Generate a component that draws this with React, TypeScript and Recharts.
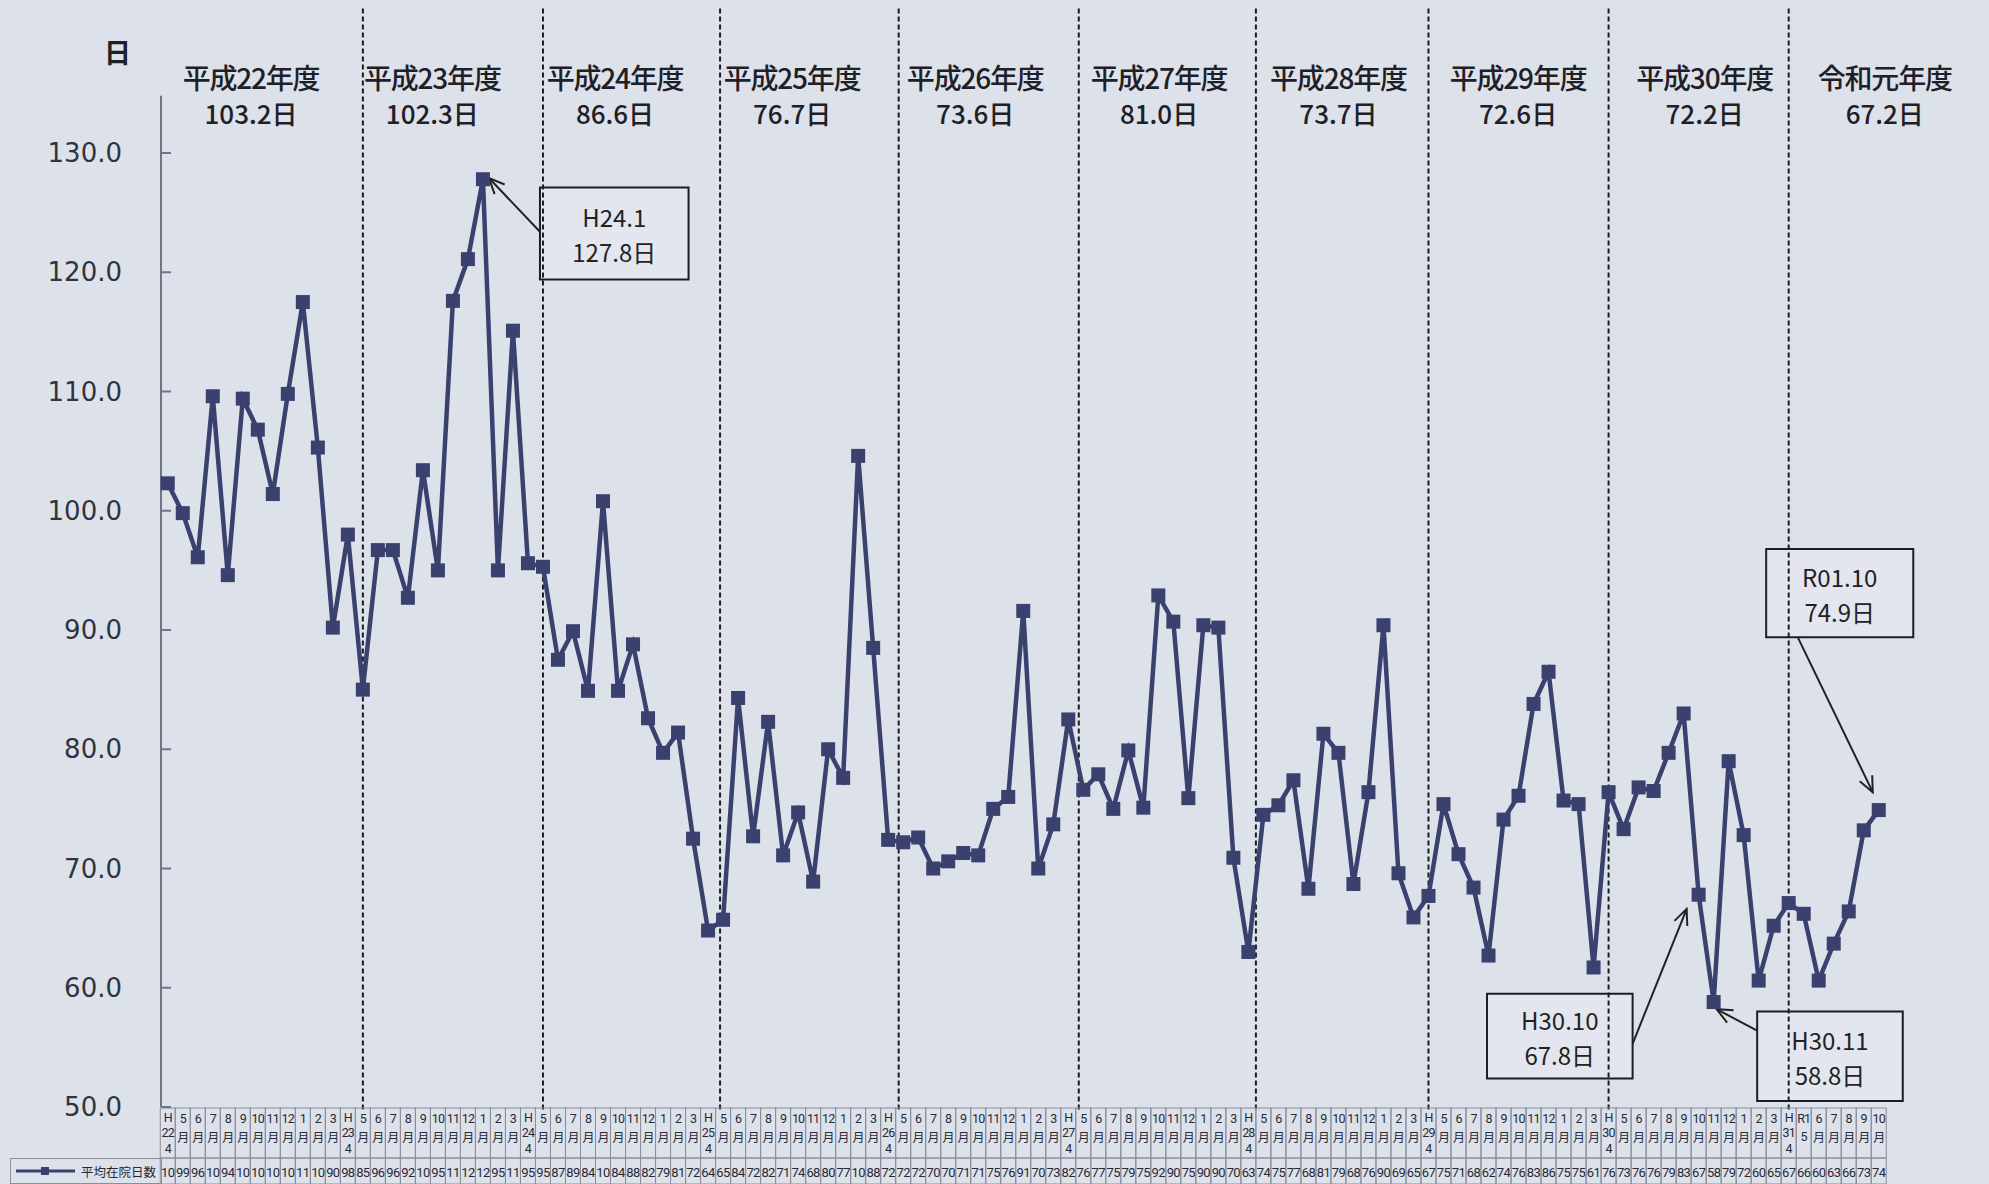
import React from "react";
import {
  LineChart,
  Line,
  XAxis,
  YAxis,
  ReferenceLine,
  ReferenceArea,
  ReferenceDot,
} from "recharts";

// 平均在院日数 (days), one array per fiscal year, April -> March
const fy22 = [102.3, 99.8, 96.1, 109.6, 94.6, 109.4, 106.8, 101.4, 109.8, 117.5, 105.3, 90.2];
const fy23 = [98.0, 85.0, 96.7, 96.7, 92.7, 103.4, 95.0, 117.6, 121.1, 127.8, 95.0, 115.1];
const fy24 = [95.6, 95.3, 87.5, 89.9, 84.9, 100.8, 84.9, 88.8, 82.6, 79.7, 81.4, 72.5];
const fy25 = [64.8, 65.7, 84.3, 72.7, 82.3, 71.1, 74.7, 68.9, 80.0, 77.6, 104.6, 88.5];
const fy26 = [72.4, 72.2, 72.6, 70.0, 70.6, 71.3, 71.1, 75.0, 76.0, 91.6, 70.0, 73.7];
const fy27 = [82.5, 76.6, 77.9, 75.0, 79.9, 75.1, 92.9, 90.7, 75.9, 90.4, 90.2, 70.9];
const fy28 = [63.0, 74.5, 75.3, 77.4, 68.3, 81.3, 79.7, 68.7, 76.4, 90.4, 69.6, 65.9];
const fy29 = [67.7, 75.4, 71.2, 68.4, 62.7, 74.1, 76.1, 83.8, 86.5, 75.7, 75.4, 61.7];
const fy30 = [76.4, 73.3, 76.8, 76.5, 79.7, 83.0, 67.8, 58.8, 79.0, 72.8, 60.6, 65.2];
const fy31 = [67.1, 66.2, 60.6, 63.7, 66.4, 73.2, 74.9];

const days = [...fy22, ...fy23, ...fy24, ...fy25, ...fy26, ...fy27, ...fy28, ...fy29, ...fy30, ...fy31];

const yearTitles = ["平成22年度", "平成23年度", "平成24年度", "平成25年度", "平成26年度", "平成27年度", "平成28年度", "平成29年度", "平成30年度", "令和元年度"];
const yearAverages = ["103.2日", "102.3日", "86.6日", "76.7日", "73.6日", "81.0日", "73.7日", "72.6日", "72.2日", "67.2日"];
const yTicks = [50, 60, 70, 80, 90, 100, 110, 120, 130];

// table header labels (stacked lines per cell)
const fyTags = ["22", "23", "24", "25", "26", "27", "28", "29", "30"];
const restMonths = ["5", "6", "7", "8", "9", "10", "11", "12", "1", "2", "3"];
const lastYearCells = [["H", "31", "4"], ["R1", "5"], ["6", "月"], ["7", "月"], ["8", "月"], ["9", "月"], ["10", "月"]];
const monthLabels: string[][] = [];
fyTags.forEach((t) => {
  monthLabels.push(["H", t, "4"]);
  restMonths.forEach((m) => monthLabels.push([m, "月"]));
});
lastYearCells.forEach((c) => monthLabels.push(c));

const data = days.map((d, i) => ({ idx: i, days: d }));
const xTicks = data.map((d) => d.idx);

// layout (in axis units)
const yearDividers = [13.0, 25.0, 36.8, 48.7, 60.7, 72.5, 84.0, 96.0, 108.0];
const yearCenters = [5.55, 17.63, 29.8, 41.6, 53.8, 66.05, 78.0, 89.97, 102.4, 114.4];

const callouts = [
  { title: "H24.1", text: "127.8日", box: [24.8, 34.7, 119.4, 127.1], from: [24.8, 123.4], to: [21.4, 127.9] },
  { title: "R01.10", text: "74.9日", box: [106.5, 116.3, 89.4, 96.8], from: [108.6, 89.4], to: [113.6, 76.4] },
  { title: "H30.10", text: "67.8日", box: [87.9, 97.6, 52.4, 59.5], from: [97.6, 55.3], to: [101.2, 66.6] },
  { title: "H30.11", text: "58.8日", box: [105.9, 115.6, 50.5, 58.0], from: [105.9, 56.4], to: [103.2, 58.2] },
];

const LINE = "#3a416e";
const BG = "#dde1ea";
const GRID = "#8a8e9c";
const TEXT = "#262a36";
const JP = '"Noto Sans CJK JP", "Noto Sans", sans-serif';

const SquareDot = (props: any) => {
  const { cx, cy } = props;
  if (cx == null || cy == null) return null;
  return <rect x={cx - 7} y={cy - 7} width={14} height={14} fill={LINE} />;
};

const YTick = (props: any) => {
  const { y, payload } = props;
  return (
    <g>
      <text x={122} y={y} dominantBaseline="central" textAnchor="end" fontSize={26} fontFamily="DejaVu Sans" fill="#30343f">
        {Number(payload.value).toFixed(1)}
      </text>
      <line x1={161} x2={171} y1={y} y2={y} stroke="#6f7486" strokeWidth={2} />
    </g>
  );
};

const TableTick = (props: any) => {
  const { x, payload } = props;
  const i = payload.value;
  const lines = monthLabels[i] || [];
  const ys = lines.length === 3 ? [1117, 1132.5, 1148] : [1118.5, 1136];
  const v = days[i];
  return (
    <g>
      <rect x={x - 7.5} y={1108} width={15} height={50} fill="none" stroke={GRID} strokeWidth={1} />
      <rect x={x - 7.5} y={1158} width={15} height={26} fill="none" stroke={GRID} strokeWidth={1} />
      {lines.map((s, k) => (
        <text
          key={k}
          x={x}
          y={ys[k]}
          textAnchor="middle"
          dominantBaseline="central"
          fontSize={s === "月" ? 12 : 12.5}
          fontFamily={s === "月" ? JP : "Roboto"}
          fill={TEXT}
          letterSpacing={-0.8}
        >
          {s}
        </text>
      ))}
      <text x={x} y={1172} textAnchor="middle" dominantBaseline="central" fontSize={13} fontFamily="Roboto" fill={TEXT} letterSpacing={-0.6}>
        {v.toFixed(1).slice(0, 2)}
      </text>
    </g>
  );
};

const YearHeader = (props: any) => {
  const { cx, cy, title, avg } = props;
  return (
    <g>
      <text x={cx} y={cy - 2} textAnchor="middle" dominantBaseline="central" fontSize={28} fontWeight={500} fontFamily={JP} fill="#1e2028" letterSpacing={-1.2}>
        {title}
      </text>
      <text x={cx} y={cy + 33} textAnchor="middle" dominantBaseline="central" fontSize={26} fontWeight={500} fontFamily={JP} fill="#1e2028">
        {avg}
      </text>
    </g>
  );
};

const BoxLabel = (props: any) => {
  const { viewBox, title, text } = props;
  const cx = viewBox.x + viewBox.width / 2;
  const cy = viewBox.y + viewBox.height / 2;
  return (
    <g>
      <text x={cx} y={cy - 17} textAnchor="middle" dominantBaseline="central" fontSize={24} fontFamily={JP} fill="#222">
        {title}
      </text>
      <text x={cx} y={cy + 18} textAnchor="middle" dominantBaseline="central" fontSize={24} fontFamily={JP} fill="#222">
        {text}
      </text>
    </g>
  );
};

const Arrow = (props: any) => {
  const { x1, y1, x2, y2 } = props;
  const a = Math.atan2(y2 - y1, x2 - x1);
  const len = 17;
  const s = 0.42;
  const p1 = `${x2 - len * Math.cos(a - s)},${y2 - len * Math.sin(a - s)}`;
  const p2 = `${x2 - len * Math.cos(a + s)},${y2 - len * Math.sin(a + s)}`;
  return (
    <g>
      <line x1={x1} y1={y1} x2={x2} y2={y2} stroke="#222" strokeWidth={2} />
      <polyline points={`${p1} ${x2},${y2} ${p2}`} fill="none" stroke="#222" strokeWidth={2} />
    </g>
  );
};

export default function App() {
  return (
    <div style={{ position: "absolute", left: 0, top: 0, width: 1989, height: 1184, background: BG, overflow: "hidden" }}>
      <LineChart width={1989} height={1184} data={data} margin={{ top: 153, right: 102, bottom: 0, left: 0 }}>
        <XAxis
          dataKey="idx"
          type="number"
          domain={[-0.45, 114.55]}
          ticks={xTicks}
          interval={0}
          height={77}
          axisLine={false}
          tickLine={false}
          tick={<TableTick />}
        />
        <YAxis
          domain={[50, 130]}
          ticks={yTicks}
          width={161}
          axisLine={false}
          tickLine={false}
          tick={<YTick />}
        />
        <ReferenceLine
          segment={[{ x: -0.45, y: 50 }, { x: -0.45, y: 134.8 }]}
          stroke="#6f7486"
          strokeWidth={2}
          ifOverflow="visible"
        />
        {yearDividers.map((b) => (
          <ReferenceLine
            key={b}
            segment={[{ x: b, y: 49.8 }, { x: b, y: 142.3 }]}
            stroke="#1c1c22"
            strokeWidth={2}
            strokeDasharray="5 3"
            ifOverflow="visible"
          />
        ))}
        {yearTitles.map((t, i) => (
          <ReferenceDot
            key={t}
            x={yearCenters[i]}
            y={136.2}
            ifOverflow="visible"
            shape={<YearHeader title={t} avg={yearAverages[i]} />}
          />
        ))}
        {callouts.map((c) => (
          <ReferenceArea
            key={c.title}
            x1={c.box[0]}
            x2={c.box[1]}
            y1={c.box[2]}
            y2={c.box[3]}
            ifOverflow="visible"
            fill="#e3e6ee"
            fillOpacity={1}
            stroke="#1e1e1e"
            strokeWidth={2}
            label={<BoxLabel title={c.title} text={c.text} />}
          />
        ))}
        {callouts.map((c) => (
          <ReferenceLine
            key={"a" + c.title}
            segment={[{ x: c.from[0], y: c.from[1] }, { x: c.to[0], y: c.to[1] }]}
            ifOverflow="visible"
            shape={<Arrow />}
          />
        ))}
        <Line
          type="linear"
          dataKey="days"
          stroke={LINE}
          strokeWidth={4.5}
          dot={<SquareDot />}
          activeDot={false}
          isAnimationActive={false}
        />
      </LineChart>
      <div style={{ position: "absolute", left: 104, top: 32, fontSize: 27, fontWeight: 700, fontFamily: JP, color: "#1e2028" }}>日</div>
      <div
        style={{
          position: "absolute",
          left: 10,
          top: 1158,
          width: 152,
          height: 26,
          border: `1px solid ${GRID}`,
          boxSizing: "border-box",
          display: "flex",
          alignItems: "center",
          fontSize: 12.5,
          fontFamily: JP,
          color: TEXT,
        }}
      >
        <svg width={70} height={14}>
          <line x1={5} x2={64} y1={7} y2={7} stroke={LINE} strokeWidth={3} />
          <rect x={30} y={3} width={8} height={8} fill={LINE} />
        </svg>
        <span>平均在院日数</span>
      </div>
    </div>
  );
}
